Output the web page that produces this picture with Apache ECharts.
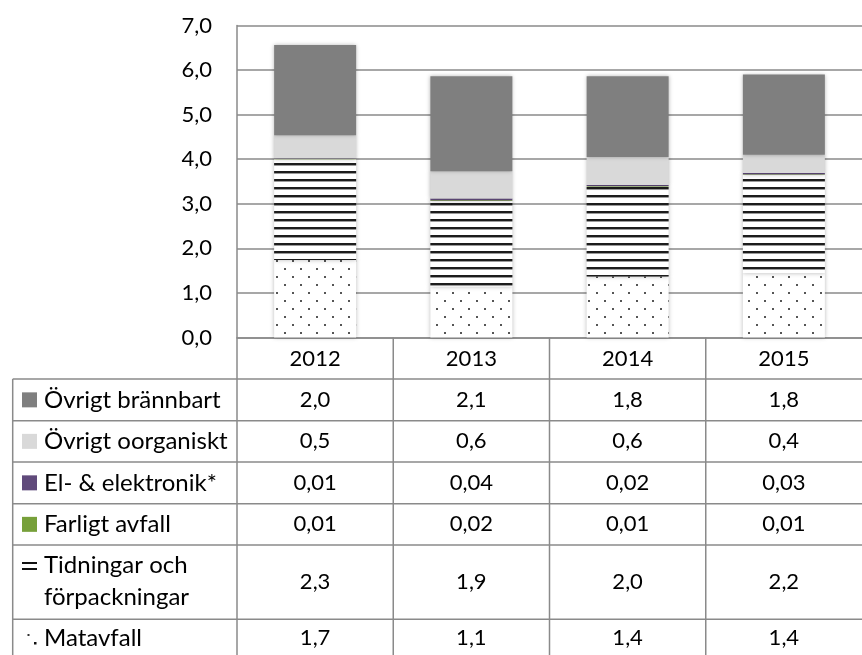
<!DOCTYPE html>
<html>
<head>
<meta charset="utf-8">
<script src="https://cdn.jsdelivr.net/npm/echarts@6/dist/echarts.min.js"></script>
<style>
html,body{margin:0;padding:0;background:#fff;}
#main{width:862px;height:655px;}
</style>
</head>
<body>
<div id="main"></div>
<script>
// ---- data ----
const categories = ['2012', '2013', '2014', '2015'];
const matavfall  = [1.74, 1.14, 1.37, 1.44];
const tidningar  = [2.26, 1.92, 2.02, 2.21];
const farligt    = [0.01, 0.02, 0.01, 0.01];
const elektronik = [0.01, 0.04, 0.02, 0.03];
const oorganiskt = [0.52, 0.61, 0.63, 0.41];
const brannbart  = [2.02, 2.13, 1.81, 1.80];
const seriesNames = ['Övrigt brännbart', 'Övrigt oorganiskt', 'El- & elektronik*', 'Farligt avfall', 'Tidningar och\nförpackningar', 'Matavfall'];

// ---- styles ----
const FONT = 'Lato';
const LINE = '#8a8a8a';

function stripePattern() {
  const c = document.createElement('canvas');
  c.width = 8; c.height = 8;
  const g = c.getContext('2d');
  g.fillStyle = '#fff'; g.fillRect(0, 0, 8, 8);
  g.fillStyle = '#1c1c1c'; g.fillRect(0, 3, 8, 2);
  g.fillStyle = '#9a9a9a'; g.fillRect(0, 5, 8, 1);
  return c;
}
function dotPattern() {
  const c = document.createElement('canvas');
  c.width = 16; c.height = 16;
  const g = c.getContext('2d');
  g.fillStyle = '#fff'; g.fillRect(0, 0, 16, 16);
  g.fillStyle = '#555';
  g.fillRect(4, 4, 2, 2);
  g.fillRect(12, 12, 2, 2);
  return c;
}

const shadow = { shadowBlur: 4, shadowColor: 'rgba(0,0,0,0.28)' };
function bar(name, data, color) {
  return {
    name: name, type: 'bar', stack: 'total', data: data, barWidth: 82,
    itemStyle: Object.assign({ color: color }, shadow),
    emphasis: { disabled: true }
  };
}

const chart = echarts.init(document.getElementById('main'), null, { renderer: 'canvas' });
const option = {
  animation: false,
  backgroundColor: '#fff',
  textStyle: { fontFamily: FONT },
  grid: { left: 237, right: 0, top: 25.5, bottom: 317.5 },
  xAxis: {
    type: 'category', data: categories,
    axisLine: { lineStyle: { color: LINE, width: 1.5 } },
    axisTick: { show: false },
    axisLabel: { color: '#000', fontSize: 22, fontFamily: FONT, margin: 10 }
  },
  yAxis: {
    type: 'value', min: 0, max: 7, interval: 1,
    axisLine: { show: true, lineStyle: { color: LINE, width: 1.5 } },
    axisTick: { show: false },
    splitLine: { lineStyle: { color: LINE, width: 1.5 } },
    axisLabel: {
      color: '#000', fontSize: 22, fontFamily: FONT, margin: 25,
      formatter: v => v.toFixed(1).replace('.', ',')
    }
  },
  series: [
    bar(seriesNames[5], matavfall, { image: dotPattern(), repeat: 'repeat' }),
    bar(seriesNames[4], tidningar, { image: stripePattern(), repeat: 'repeat' }),
    bar(seriesNames[3], farligt, '#77a03a'),
    bar(seriesNames[2], elektronik, '#604a7b'),
    bar(seriesNames[1], oorganiskt, '#d9d9d9'),
    bar(seriesNames[0], brannbart, '#7f7f7f')
  ]
};
chart.setOption(option);

// ---- data table drawn under the axis ----
const rowData = [brannbart, oorganiskt, elektronik, farligt, tidningar, matavfall];
const rowDec = [1, 1, 2, 2, 1, 1];
const rowY = [379, 420.7, 462, 503.7, 545, 619.3, 662];
const tableLeft = 12.7;

const centers = categories.map(c => chart.convertToPixel({ xAxisIndex: 0 }, c));
const band = centers[1] - centers[0];
const axisY = chart.convertToPixel({ yAxisIndex: 0 }, 0);
const bounds = [];
for (let i = 0; i <= categories.length; i++) bounds.push(centers[0] - band / 2 + i * band);

const els = [];
function hline(y, x1, x2) {
  els.push({ type: 'line', shape: { x1: x1, y1: y, x2: x2, y2: y }, style: { stroke: LINE, lineWidth: 1.5 }, z: 10 });
}
function vline(x, y1, y2) {
  els.push({ type: 'line', shape: { x1: x, y1: y1, x2: x, y2: y2 }, style: { stroke: LINE, lineWidth: 1.5 }, z: 10 });
}
function text(t, x, y, align, size, lh) {
  els.push({ type: 'text', x: x, y: y, z: 11,
    style: { text: t, fill: '#000', fontSize: size, fontFamily: FONT, align: align, verticalAlign: 'middle', lineHeight: lh || 28 } });
}
rowY.slice(0, -1).forEach(y => hline(y, tableLeft, 862));
vline(tableLeft, rowY[0], 655);
bounds.slice(0, -1).forEach(x => vline(x, axisY, 655));

const swatch = ['#7f7f7f', '#d9d9d9', '#604a7b', '#77a03a'];
rowData.forEach((vals, r) => {
  const cy = (rowY[r] + rowY[r + 1]) / 2;
  const ty = r === 5 ? 638 : cy;
  if (r < 4) {
    els.push({ type: 'rect', shape: { x: 22, y: ty - 7.5, width: 15, height: 15 }, style: { fill: swatch[r] }, z: 11 });
  } else if (r === 4) {
    els.push({ type: 'rect', shape: { x: 22, y: 562, width: 15, height: 2 }, style: { fill: '#111' }, z: 11 });
    els.push({ type: 'rect', shape: { x: 22, y: 568, width: 15, height: 2 }, style: { fill: '#111' }, z: 11 });
  } else {
    els.push({ type: 'rect', shape: { x: 27.5, y: 634, width: 2, height: 2 }, style: { fill: '#333' }, z: 11 });
    els.push({ type: 'rect', shape: { x: 34, y: 642, width: 2.5, height: 2.5 }, style: { fill: '#111' }, z: 11 });
  }
  text(seriesNames[r], 44, r === 4 ? 581 : ty, 'left', 24, 32);
  vals.forEach((v, i) => {
    text(v.toFixed(rowDec[r]).replace('.', ','), centers[i], ty, 'center', 22);
  });
});

chart.setOption({ graphic: { elements: els } });
</script>
</body>
</html>
